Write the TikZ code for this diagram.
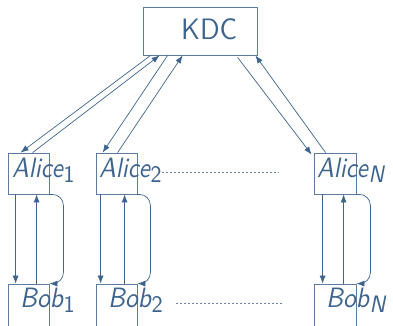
\documentclass[tikz,border=0pt]{standalone}
\usepackage{amsmath}
\usetikzlibrary{arrows.meta}
\definecolor{sb}{RGB}{62,100,142}
\definecolor{sbl}{RGB}{100,130,168}
\newcommand\lbl[3]{\scalebox{#1}[#2]{\sffamily #3}}
\newcommand\subs[1]{\kern0.2pt\raisebox{-0.45ex}{\fontsize{8.5}{9}\selectfont #1}}
\begin{document}
\begin{tikzpicture}[x=1pt,y=-1pt,
  box/.style={draw=sb!85, line width=0.8pt, minimum width=41pt, minimum height=41pt, inner sep=0pt},
  txt/.style={text=sb, inner sep=0pt, anchor=base west},
  arr/.style={draw=sb, line width=0.7pt, -{Latex[length=8pt,width=6pt]}},
  dots/.style={draw=sbl, line width=0.6pt, dash pattern=on 2pt off 2pt}]
\useasboundingbox (0,0) rectangle (393,325);
% boxes
\node[box, minimum width=114pt, minimum height=48pt] (K) at (200,31) {};
\node[box] (A1) at (28.5,173.5) {};
\node[box] (A2) at (116.5,173.5) {};
\node[box, minimum width=42pt] (AN) at (335,173.5) {};
\node[box, minimum height=44pt] (B1) at (28.5,306) {};
\node[box, minimum height=44pt] (B2) at (116.5,306) {};
\node[box, minimum width=42pt, minimum height=44pt] (BN) at (335,306) {};
% texts
\node[txt] (tK) at (181,39) {\lbl{2.72}{2.95}{KDC}};
\node[txt] (tA1) at (12,177) {\lbl{2.5}{2.8}{\itshape Alice\subs{\upshape 1}}};
\node[txt] (tA2) at (99,177) {\lbl{2.5}{2.8}{\itshape Alice\subs{\upshape 2}}};
\node[txt] (tAN) at (317,177) {\lbl{2.5}{2.8}{\itshape Alice\subs{N}}};
\node[txt] (tB1) at (20,307) {\lbl{2.55}{2.8}{\itshape Bob\subs{\upshape 1}}};
\node[txt] (tB2) at (108,307) {\lbl{2.55}{2.8}{\itshape Bob\subs{\upshape 2}}};
\node[txt] (tBN) at (326,307) {\lbl{2.55}{2.8}{\itshape Bob\subs{N}}};
% KDC <-> Alice
\draw[arr] ([xshift=8pt]K.south west) -- ([xshift=13pt]A1.north west);
\draw[arr] ([xshift=25pt]A1.north west) -- ([xshift=17pt]K.south west);
\draw[arr] ([xshift=25pt]K.south west) -- ([xshift=7pt]A2.north west);
\draw[arr] ([xshift=22pt]A2.north west) -- ([xshift=40pt]K.south west);
\draw[arr] ([xshift=95pt,yshift=-2pt]K.south west) -- ([xshift=-2pt,yshift=-2pt]AN.north west);
\draw[arr] ([xshift=12pt]AN.north west) -- ([xshift=-2pt]K.south east);
% Alice <-> Bob
\foreach \a/\b/\d/\u/\c in {A1/B1/8/29/14, A2/B2/5/29/13, AN/BN/9/30/14}{
  \draw[arr] ([xshift=\d pt]\a.south west) -- ([xshift=\d pt]\b.north west);
  \draw[arr] ([xshift=\u pt]\b.north west) -- ([xshift=\u pt]\a.south west);
  \draw[arr, rounded corners=11pt] (\a.south east) -- ([xshift=\c pt]\a.south east) -- ([xshift=\c pt]\b.north east) -- (\b.north east);
}
% dotted
\coordinate (d1) at (278,172);
\coordinate (d2) at (176,303);
\coordinate (d3) at (282,303);
\draw[dots] (tA2.east |- d1) -- (d1);
\draw[dots] (d2) -- (d3);
\end{tikzpicture}
\end{document}
